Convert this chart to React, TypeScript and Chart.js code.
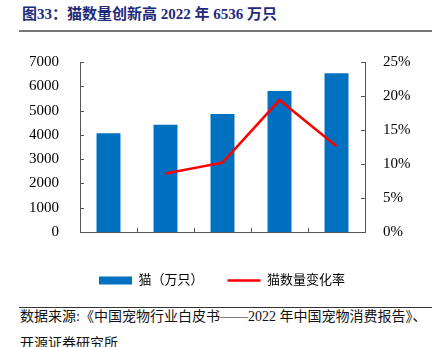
import React, { useEffect, useRef } from "react";
import { Chart, registerables } from "chart.js";

Chart.register(...registerables);

const categories = ["2018", "2019", "2020", "2021", "2022"];
const catCounts = [4064, 4412, 4862, 5806, 6536];
const growthRates: (number | null)[] = [null, 8.6, 10.2, 19.4, 12.6];
const seriesNames = ["猫（万只）", "猫数量变化率"];
const titleText = "图33：猫数量创新高 2022 年 6536 万只";
const sourceLines = ["数据来源:《中国宠物行业白皮书——2022 年中国宠物消费报告》、", "开源证券研究所"];

const BLUE = "#0070C0";
const RED = "#FF0000";
const AXIS = "#555555";
const FONT = "'Liberation Serif', 'Times New Roman', 'Noto Sans CJK SC', serif";

const innerTicks = {
  id: "innerTicks",
  afterDraw(chart: any) {
    const { ctx, chartArea, scales } = chart;
    const y = scales.y;
    const y1 = scales.y1;
    const x = scales.x;
    ctx.save();
    ctx.strokeStyle = AXIS;
    ctx.lineWidth = 1;
    ctx.beginPath();
    y.ticks.forEach((t: any) => {
      const p = Math.round(y.getPixelForValue(t.value)) + 0.5;
      ctx.moveTo(chartArea.left, p);
      ctx.lineTo(chartArea.left + 4, p);
    });
    y1.ticks.forEach((t: any) => {
      const p = Math.round(y1.getPixelForValue(t.value)) + 0.5;
      ctx.moveTo(chartArea.right, p);
      ctx.lineTo(chartArea.right - 4, p);
    });
    for (let i = 1; i < categories.length; i++) {
      const px = Math.round((x.getPixelForValue(i - 1) + x.getPixelForValue(i)) / 2) + 0.5;
      ctx.moveTo(px, chartArea.bottom);
      ctx.lineTo(px, chartArea.bottom - 4);
    }
    ctx.stroke();
    ctx.restore();
  },
};

export default function App() {
  const ref = useRef<HTMLCanvasElement>(null);

  useEffect(() => {
    if (!ref.current) return;
    const chart = new Chart(ref.current, {
      type: "bar",
      data: {
        labels: categories,
        datasets: [
          {
            type: "bar",
            label: seriesNames[0],
            data: catCounts,
            backgroundColor: BLUE,
            borderWidth: 0,
            yAxisID: "y",
            categoryPercentage: 1,
            barPercentage: 0.42,
            order: 1,
          },
          {
            type: "line",
            label: seriesNames[1],
            data: growthRates,
            borderColor: RED,
            backgroundColor: RED,
            borderWidth: 2.5,
            pointRadius: 0,
            tension: 0,
            yAxisID: "y1",
            order: 0,
          },
        ] as any,
      },
      options: {
        responsive: false,
        animation: false,
        layout: { padding: { top: 12, bottom: 3, left: 12, right: 0 } },
        plugins: {
          tooltip: { enabled: false },
          legend: {
            position: "bottom",
            labels: {
              usePointStyle: true,
              pointStyleWidth: 33,
              boxHeight: 8,
              padding: 24,
              color: "#000",
              font: { family: FONT, size: 13 },
              generateLabels: (c: any) => {
                const items = (Chart.defaults.plugins.legend.labels as any).generateLabels(c);
                items.sort((a: any, b: any) => a.datasetIndex - b.datasetIndex);
                items.forEach((it: any) => {
                  if (it.datasetIndex === 0) {
                    it.pointStyle = "rect";
                    it.lineWidth = 0;
                  } else {
                    it.pointStyle = "line";
                    it.lineWidth = 2.5;
                    it.strokeStyle = RED;
                  }
                });
                return items;
              },
            },
          },
        },
        scales: {
          x: {
            grid: { display: false },
            border: { display: true, color: AXIS, width: 1 },
            ticks: { color: "#000", font: { family: FONT, size: 14 }, padding: 10 },
            afterFit: (s: any) => {
              s.height = 18;
            },
          },
          y: {
            position: "left",
            min: 0,
            max: 7000,
            grid: { display: false },
            border: { display: true, color: AXIS, width: 1 },
            ticks: {
              stepSize: 1000,
              color: "#000",
              font: { family: FONT, size: 15 },
              padding: 13,
              callback: (v: any) => String(v),
            },
            afterFit: (s: any) => {
              s.width = 68;
            },
          },
          y1: {
            position: "right",
            min: 0,
            max: 25,
            grid: { display: false },
            border: { display: true, color: AXIS, width: 1 },
            ticks: {
              stepSize: 5,
              color: "#000",
              font: { family: FONT, size: 15 },
              padding: 10,
              callback: (v: any) => v + "%",
            },
            afterFit: (s: any) => {
              s.width = 67;
            },
          },
        },
      } as any,
      plugins: [innerTicks],
    });
    return () => chart.destroy();
  }, []);

  return (
    <div
      style={{
        position: "absolute",
        left: 0,
        top: 0,
        width: 432,
        height: 347,
        overflow: "hidden",
        background: "#fff",
      }}
    >
      <div
        style={{
          position: "absolute",
          left: 22,
          top: 5,
          lineHeight: "19px",
          fontSize: 15,
          fontWeight: "bold",
          color: "#1F2A7A",
          fontFamily: FONT,
          whiteSpace: "nowrap",
        }}
      >
        {titleText}
      </div>
      <div style={{ position: "absolute", left: 19, top: 30, width: 413, height: 2, background: "#777" }} />
      <canvas
        ref={ref}
        width={432}
        height={260}
        style={{ position: "absolute", left: 0, top: 40, width: 432, height: 260 }}
      />
      <div style={{ position: "absolute", left: 19, top: 307, width: 413, height: 1, background: "#333" }} />
      <div
        style={{
          position: "absolute",
          left: 20,
          top: 303,
          lineHeight: "27px",
          fontSize: 14,
          color: "#111",
          fontFamily: "'Liberation Serif', 'Noto Sans CJK SC', serif",
          whiteSpace: "nowrap",
        }}
      >
        {sourceLines[0]}
        <br />
        {sourceLines[1]}
      </div>
    </div>
  );
}
